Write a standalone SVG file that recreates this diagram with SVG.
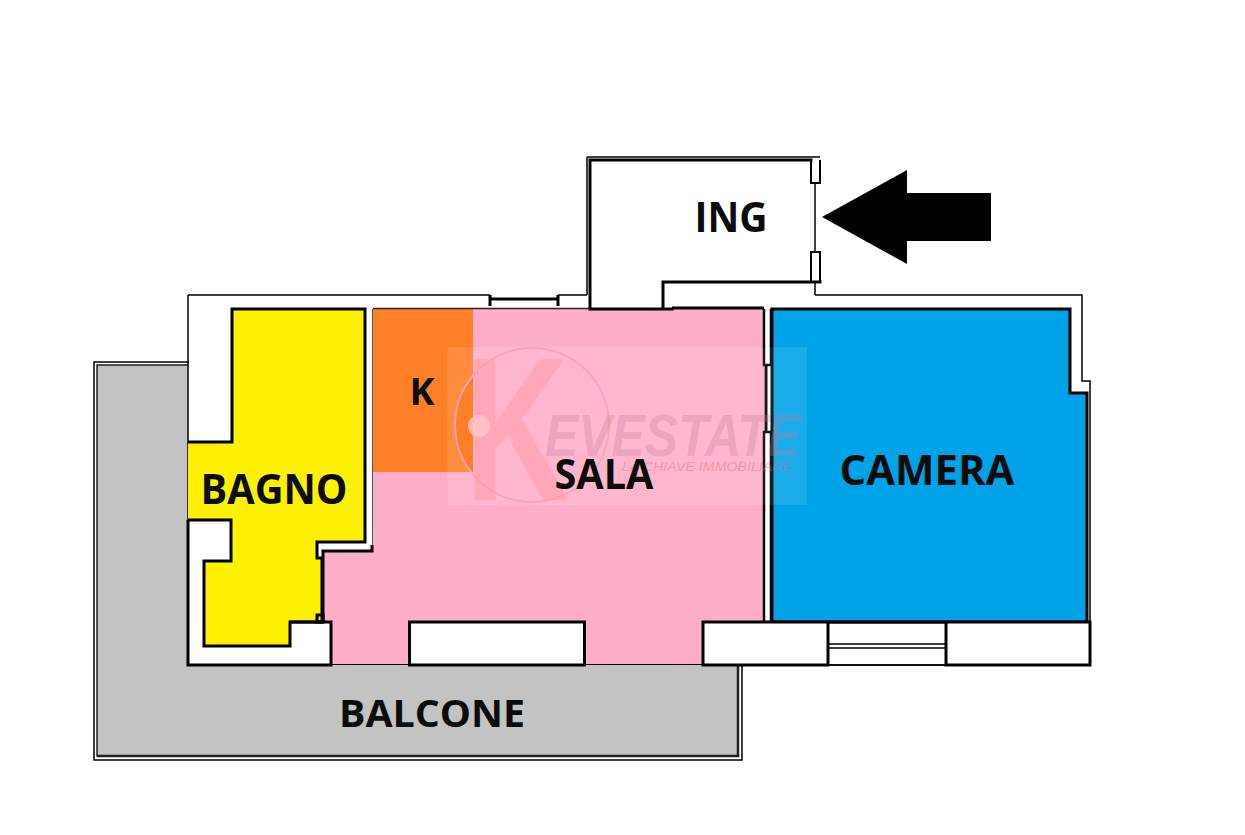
<svg xmlns="http://www.w3.org/2000/svg" width="1245" height="835" viewBox="0 0 1245 835">
<style>
.lbl{font-family:"Open Sans","Noto Sans","Liberation Sans",sans-serif;font-weight:700;fill:#0c0c0c;text-anchor:middle}
.w{fill:#fff;stroke:#000;stroke-width:3}
.k{fill:none;stroke:#000;stroke-width:3}
.t{fill:none;stroke:#000;stroke-width:1.5}
</style>
<defs>
<clipPath id="orangeArea"><rect x="373" y="309" width="100" height="163"/></clipPath>
</defs>
<rect width="1245" height="835" fill="#fff"/>
<g id="balcone">
<rect x="94" y="362" width="648" height="398" fill="#fff" stroke="#000" stroke-width="1.5"/>
<path d="M97 365H188V665H738V756H97Z" fill="#c3c3c3"/>
<path d="M188 365H97V756H738V665" fill="none" stroke="#222" stroke-width="1.500"/>
<path d="M97 756H738V665" fill="none" stroke="#222" stroke-width="2.500"/>
<text class="lbl" x="432" y="727" font-size="38" textLength="186" lengthAdjust="spacingAndGlyphs">BALCONE</text>
</g>
<g id="plan-shell">
<rect x="189" y="296" width="900" height="369" fill="#fff"/>
<path d="M188 295H490M558 295H587M815 295H1082V381H1090V665H828" class="t"/>
<path d="M188 295V665" fill="none" stroke="#000" stroke-width="1.500"/>
</g>
<g id="sala">
<path d="M373 309H764V622H702V665H585V622H409V665H331V622H323V551H373Z" fill="#ffaec9"/>
</g>
<g id="k">
<rect x="373" y="309" width="100" height="163" fill="#ff7f27"/>
</g>
<g id="camera">
<path d="M772 309H1070V393H1087V622H772Z" fill="#00a2e8" stroke="#000" stroke-width="3"/>
</g>
<g id="bagno">
<path d="M232 309H365V542H317V558H322V622H290V646H204V561H231V520H188V442H232Z" fill="#fff200"/>
<path d="M188 442H232V309H365V542H317V558H322V622H290V646H204V561H231V520H188" class="k"/>
</g>
<g id="ingresso">
<path d="M590 160H811M590 160V309M663 282H820M663 282V309M590 309H672" class="k" stroke-linecap="square"/>
<path d="M587 157H820M587 157V295" class="t"/>
<path d="M811 160V183H820V160M811 282V252H820V282" fill="none" stroke="#000" stroke-width="2"/>
<path d="M815 183V252M815 282V295" class="t"/>
</g>
<g id="walls">
<path d="M672 308H764" class="k"/>
<path d="M373 308.500H590" fill="none" stroke="#222" stroke-width="1.500"/>
<path d="M372.500 309V545" fill="none" stroke="#555" stroke-width="1"/>
<path d="M372 545V551H323V622" class="k"/>
<path d="M188 520V665H331V622H290" class="k"/>
<rect x="317" y="615" width="6" height="7" class="k" stroke-width="2"/>
<path d="M490 295V306M558 295V306M490 299H558" class="k"/>
<path d="M766 365V432" class="k"/>
<path d="M764 309V365H771V309M771 622V432H764V622" fill="#fff" stroke="#000" stroke-width="2.500"/>
<rect x="331" y="664" width="371" height="1" fill="#000"/>
<rect x="409.500" y="622" width="175" height="43" class="w"/>
<rect x="703" y="622" width="125" height="43" class="w"/>
<rect x="946" y="622" width="144" height="43" class="w"/>
<path d="M828 622H946" class="k"/>
<path d="M828 644H946M828 648H946M828 665H946" class="t"/>
</g>
<g id="watermark">
<rect x="447" y="347" width="360" height="158" fill="#fff" opacity=".1"/>
<circle cx="532" cy="425" r="78" fill="#ff7f27" clip-path="url(#orangeArea)"/>
<circle cx="532" cy="425" r="77" fill="none" stroke="#f7a6b8" stroke-width="2"/>
<text x="465" y="500" font-family="Liberation Sans,sans-serif" font-weight="700" font-size="205" fill="#ff9aa6" opacity=".5" textLength="104" lengthAdjust="spacingAndGlyphs">K</text>
<circle cx="479" cy="426" r="11" fill="#ffc3c8" opacity=".85"/>
<text x="545" y="456" font-family="Liberation Sans,sans-serif" font-weight="700" font-style="italic" font-size="60" fill="#c07b9c" opacity=".28" textLength="256" lengthAdjust="spacingAndGlyphs">EVESTATE</text>
<text x="622" y="471" font-family="Liberation Sans,sans-serif" font-style="italic" font-size="12" fill="#e06a80" opacity=".4" textLength="170" lengthAdjust="spacingAndGlyphs">LA CHIAVE IMMOBILIARE</text>
</g>
<g id="labels">
<text class="lbl" x="731" y="232" font-size="42" textLength="73" lengthAdjust="spacingAndGlyphs">ING</text>
<text class="lbl" x="422" y="405" font-size="38" textLength="25" lengthAdjust="spacingAndGlyphs">K</text>
<text class="lbl" x="274" y="504" font-size="42" textLength="147" lengthAdjust="spacingAndGlyphs">BAGNO</text>
<text class="lbl" x="604" y="489" font-size="42" textLength="99" lengthAdjust="spacingAndGlyphs">SALA</text>
<text class="lbl" x="927" y="485" font-size="42" textLength="175" lengthAdjust="spacingAndGlyphs">CAMERA</text>
</g>
<g id="arrow">
<path d="M822 217L907 170V193H991V241H907V264Z" fill="#000"/>
</g>
</svg>
